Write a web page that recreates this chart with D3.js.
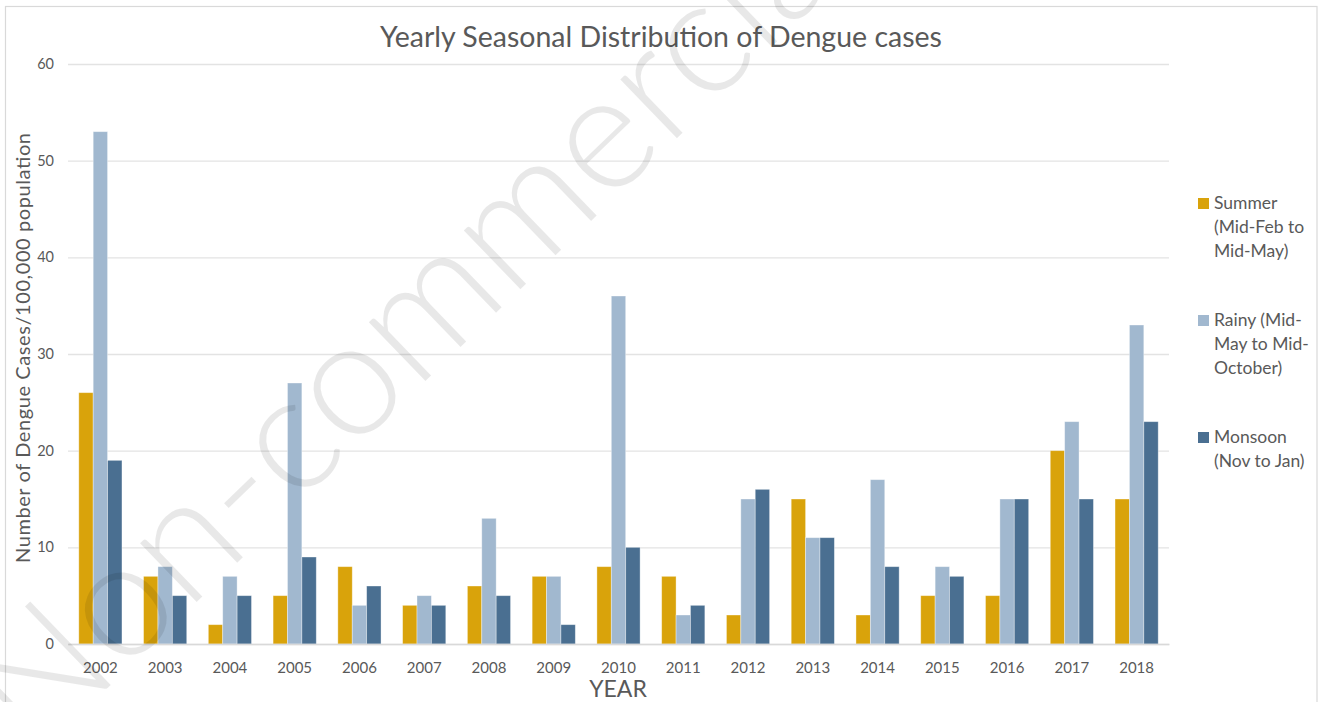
<!DOCTYPE html>
<html>
<head>
<meta charset="utf-8">
<script src="https://cdn.jsdelivr.net/npm/d3@7"></script>
<style>
  html, body { margin: 0; padding: 0; background: #fff; }
  svg { display: block; font-family: Lato, "Open Sans", sans-serif; }
</style>
</head>
<body>
<svg id="chart" width="1330" height="702"></svg>
<script>
// ---- data ----
const years = ["2002","2003","2004","2005","2006","2007","2008","2009","2010","2011","2012","2013","2014","2015","2016","2017","2018"];
const summer  = [26, 7, 2, 5, 8, 4, 6, 7, 8, 7, 3, 15, 3, 5, 5, 20, 15];
const rainy   = [53, 8, 7, 27, 4, 5, 13, 7, 36, 3, 15, 11, 17, 8, 15, 23, 33];
const monsoon = [19, 5, 5, 9, 6, 4, 5, 2, 10, 4, 16, 11, 8, 7, 15, 15, 23];
const seriesNames = ["Summer", "Rainy", "Monsoon"];
const legendLines = [["Summer", "(Mid-Feb to", "Mid-May)"], ["Rainy (Mid-", "May to Mid-", "October)"], ["Monsoon", "(Nov to Jan)"]];
const seriesColors = ["#D9A30B", "#A1B8CF", "#4A6F91"];
const yTicks = [0, 10, 20, 30, 40, 50, 60];
const titleText = "Yearly Seasonal Distribution of Dengue cases";
const yTitle = "Number of Dengue Cases/100,000 population";
const xTitle = "YEAR";
const watermark = "Non-commercial";

const series = [summer, rainy, monsoon];

const svg = d3.select("#chart");
const plot = { left: 68, right: 1169, top: 64, bottom: 644 };

// outer border
svg.append("rect").attr("x", 5.5).attr("y", 6.5).attr("width", 1311.5).attr("height", 700)
  .attr("fill", "#fff").attr("stroke", "#D9D9D9").attr("stroke-width", 1.2);

const x = d3.scaleBand().domain(years).range([plot.left, plot.right]).paddingInner(150/450).paddingOuter(75/450);
const xInner = d3.scaleBand().domain(seriesNames).range([0, x.bandwidth()]);
const y = d3.scaleLinear().domain([0, 60]).range([plot.bottom, plot.top]);

// gridlines
const yAxis = d3.axisLeft(y).tickValues(yTicks).tickSize(-(plot.right - plot.left)).tickPadding(14);
const gy = svg.append("g").attr("transform", `translate(${plot.left},0)`).call(yAxis);
gy.select(".domain").remove();
gy.selectAll(".tick line").attr("stroke", "#E3E3E3").attr("stroke-width", 1.3);
gy.selectAll(".tick text").attr("fill", "#595959").attr("font-size", 14.5).attr("font-family", "Lato");

// bars
const gBars = svg.append("g");
series.forEach((vals, si) => {
  gBars.selectAll(null).data(vals).enter().append("rect")
    .attr("x", (d, i) => x(years[i]) + xInner(seriesNames[si]))
    .attr("y", d => y(d))
    .attr("width", xInner.bandwidth())
    .attr("height", d => y(0) - y(d))
    .attr("fill", seriesColors[si])
    .attr("stroke", "rgba(255,255,255,0.45)")
    .attr("stroke-width", 0.8);
});

// x axis
const xAxis = d3.axisBottom(x).tickSize(0).tickPadding(18);
const gx = svg.append("g").attr("transform", `translate(0,${plot.bottom})`).call(xAxis);
gx.select(".domain").attr("stroke", "#D9D9D9").attr("stroke-width", 1.3);
gx.selectAll(".tick text").attr("fill", "#595959").attr("font-size", 15).attr("font-family", "Lato");

// title
svg.append("text").attr("x", 661).attr("y", 47).attr("text-anchor", "middle")
  .attr("fill", "#595959").attr("font-size", 28.5).text(titleText);

// axis titles
svg.append("text").attr("transform", "translate(30,348) rotate(-90)").attr("text-anchor", "middle")
  .attr("fill", "#595959").attr("font-size", 20).attr("textLength", 430).attr("lengthAdjust", "spacing")
  .text(yTitle);
svg.append("text").attr("x", 618).attr("y", 697).attr("text-anchor", "middle")
  .attr("fill", "#595959").attr("font-size", 23).text(xTitle);

// legend
const legTop = [203, 320, 437];
const gLeg = svg.append("g");
legendLines.forEach((lines, si) => {
  gLeg.append("rect").attr("x", 1198).attr("y", legTop[si] - 5).attr("width", 11).attr("height", 11)
    .attr("fill", seriesColors[si]);
  lines.forEach((ln, li) => {
    gLeg.append("text").attr("x", 1214).attr("y", legTop[si] + 6 + li * 24)
      .attr("fill", "#595959").attr("font-size", 17.5).text(ln);
  });
});

// watermark
svg.append("text").attr("transform", "translate(34,759) rotate(-44)")
  .attr("fill", "#000").attr("fill-opacity", 0.09).attr("font-size", 164).attr("font-weight", 300)
  .attr("font-family", "Lato").text(watermark);
</script>
</body>
</html>
